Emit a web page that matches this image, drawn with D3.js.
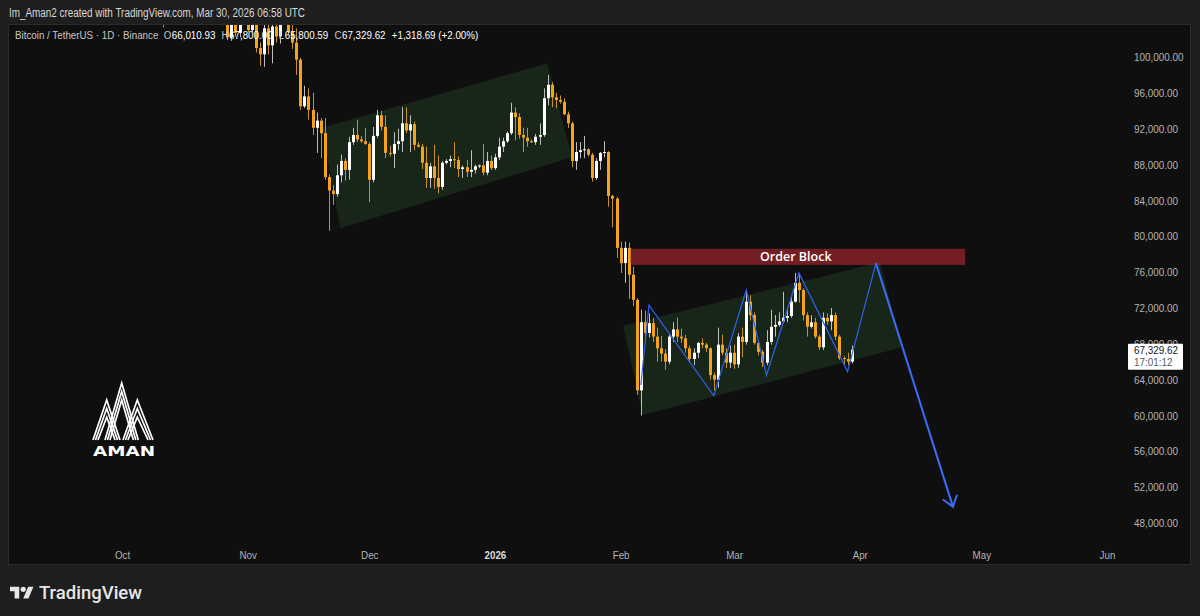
<!DOCTYPE html>
<html><head><meta charset="utf-8">
<script src="https://cdn.jsdelivr.net/npm/d3@7"></script>
<style>
html,body{margin:0;padding:0;background:#1e1e1e;overflow:hidden;}
svg{display:block;}
</style></head><body>
<svg id="c" width="1200" height="616"></svg>
<script>
// ---------- DATA (daily candles, [open, high, low, close]) ----------
const oct2025 = [
[114000,118600,113600,118400],[118400,121000,118200,120600],[120600,123900,119400,122300],[122300,122800,121600,122400],
[122400,125500,122000,123500],[123500,126200,123100,124700],[124700,125100,120600,121400],[121400,124200,121000,123300],
[123300,123700,119700,121700],[121700,122500,104500,113200],[113200,113800,103300,110600],[110600,115800,109800,115200],
[115200,115900,113600,115200],[115200,115500,110000,113000],[113000,113600,110100,110800],[110800,111700,107500,108200],
[108200,109300,104000,106400],[106400,107500,106300,107200],[107200,109500,106100,108700],[108700,111700,107500,110500],
[110500,114000,107400,108400],[108400,109000,106800,107600],[107600,111000,107500,110100],[110100,111800,109700,111000],
[111000,111900,110600,111600],[111600,112500,105200,106000],[106000,106600,101900,102200],[102200,105500,101800,104900],
[104900,105300,102300,102700],[102700,106000,102200,105400],[105400,106600,104700,106100]
];
const nov2025 = [
[106100,106400,102800,103000],[103000,104700,102700,104300],[104300,104900,100500,101000],[101000,101600,99000,100300],
[100300,103800,98900,103200],[103200,104200,100300,101300],[101300,104000,99300,103400],[103400,103800,101600,102300],
[102300,105000,101500,104700],[104700,106600,104200,105900],[105900,106300,102500,102800],[102800,105000,100900,101600],
[101600,103200,98000,99700],[99700,99900,94100,94500],[94500,96800,94300,95600],[95600,96500,93000,94100],
[94100,96000,91300,92100],[92100,93800,89300,92900],[92900,93200,88700,91500],[91500,93200,86300,86600],
[86600,86900,80600,85100],[85100,85700,83500,84700],[84700,88000,84400,86800],[86800,89100,86000,88400],
[88400,88700,86200,87400],[87400,91100,86300,90500],[90500,92100,90200,91300],[91300,93000,90500,90800],
[90800,91200,90400,90600],[90600,92100,90200,90300]
];
const dec2025 = [
[90300,90500,83800,86300],[86300,92200,86000,91200],[91200,94100,91000,93500],[93500,94000,91800,92200],
[92200,93500,88700,89300],[89300,90100,88900,89200],[89200,91600,87600,90300],[90300,92000,89600,90600],
[90600,94400,89400,92600],[92600,94400,91500,91800],[91800,93500,89400,92500],[92500,92800,89600,90200],
[90200,90500,89900,90000],[90000,90300,87500,88200],[88200,90000,85400,86500],[86500,88200,85400,87800],
[87800,90200,85300,86500],[86500,89000,84800,85500],[85500,88400,85200,88200],[88200,88600,88000,88400],
[88400,89000,87700,88600],[88600,90500,87600,88500],[88500,88900,86600,87500],[87500,87900,86500,87700],
[87700,88500,86600,87200],[87200,89600,86600,87400],[87400,88000,87000,87800],[87800,88000,87600,87900],
[87900,90300,86800,87100],[87100,89400,86800,88400],[88400,89000,87400,87600]
];
const jan2026 = [
[87600,89200,87400,88800],[88800,91000,88500,90000],[90000,91000,89400,90600],[90600,91700,90400,91500],
[91500,94900,91300,93800],[93800,94400,90700,93300],[93300,93700,90900,91300],[91300,92100,89400,91000],
[91000,92100,90000,90600],[90600,90800,90400,90500],[90500,91400,90200,91100],[91100,92600,90200,91300],
[91300,96500,91100,95400],[95400,98000,94600,96900],[96900,97200,94400,95500],[95500,96000,94300,95200],
[95200,95700,94800,95000],[95000,95400,93500,93600],[93600,93900,92100,92600],[92600,92800,87700,88400],
[88400,90500,87400,89400],[89400,90500,88700,89600],[89600,91200,88700,89700],[89700,89800,88900,89100],
[89100,89300,86100,86500],[86500,88700,86300,88400],[88400,89400,87400,89300],[89300,90600,88800,89400],
[89400,89500,83300,84500],[84500,84600,81000,84200],[84200,84400,77600,78700]
];
const feb2026 = [
[78700,79400,75900,77000],[77000,79400,74800,78700],[78700,79300,73000,75700],[75700,76600,72200,72900],
[72900,73100,62300,62800],[62800,71800,60000,70400],[70400,71700,68100,69200],[69200,71400,68700,70300],
[70300,70900,68200,68800],[68800,69800,66000,67500],[67500,68900,66000,66900],[66900,67400,65100,66000],
[66000,69000,65700,68800],[68800,70400,68200,69600],[69600,70900,68200,68800],[68800,69700,68100,68600],
[68600,69000,67000,67500],[67500,67800,65900,66300],[66300,67500,65600,67000],[67000,68200,66400,68100],
[68100,68600,67500,67900],[67900,68100,67100,67500],[67500,67600,64000,64500],[64500,64800,62800,64000],
[64000,69800,63100,67900],[67900,69000,66700,67000],[67000,67500,65300,65900],[65900,67800,65300,67000]
];
const mar2026 = [
[67000,67900,65200,65700],[65700,69200,65300,68800],[68800,69800,66500,68200],[68200,73800,67900,72700],
[72700,73400,70600,71200],[71200,71500,67900,68100],[68100,68400,66700,67100],[67100,67300,65400,65900],
[65900,69500,65600,68200],[68200,71800,67900,69900],[69900,71200,68800,70100],[70100,71500,69900,70500],
[70500,73800,70300,70900],[70900,72000,70400,71100],[71100,73200,70900,72700],[72700,75900,72600,74800],
[74800,75900,72600,74000],[74000,74200,70600,71200],[71200,71500,68800,69900],[69900,71200,69700,70400],
[70400,70900,68600,68800],[68800,69000,67300,67600],[67600,71500,67300,70900],[70900,71400,70100,70500],
[70500,72000,69500,71200],[71200,71500,68400,68800],[68800,69000,66200,66400],[66400,66600,65600,66300],
[66300,67000,65600,66010.93],[66010.93,67800,65800.59,67329.62]
];
const monthStarts = ["2025-10-01","2025-11-01","2025-12-01","2026-01-01","2026-02-01","2026-03-01"];

const timeTicks = ["2025-10-01","2025-11-01","2025-12-01","2026-01-01","2026-02-01","2026-03-01","2026-04-01","2026-05-01","2026-06-01"];
const timeTickLabels = ["Oct","Nov","Dec","2026","Feb","Mar","Apr","May","Jun"];
const priceTicks = [48000,52000,56000,60000,64000,68000,72000,76000,80000,84000,88000,92000,96000,100000];

// drawings: [time, price]
const channelTop = [["2025-11-19T08:00",92100],["2026-01-13T22:00",99300],["2026-01-20T00:00",88800],["2025-11-23T20:00",80900]];
const channelBottom = [["2026-02-01T15:00",70000],["2026-04-06T00:00",77100],["2026-04-11T10:00",67600],["2026-02-06T12:00",60050]];
const orderBlock = {from:"2026-02-03T10:00", to:"2026-04-27T00:00", top:78600, bottom:76800, label:"Order Block"};
const zigzag = [["2026-02-06T00:00",63400],["2026-02-08T00:00",72300],["2026-02-24T00:00",62200],["2026-03-04T00:00",74000],
                ["2026-03-09T00:00",64500],["2026-03-17T00:00",75900],["2026-03-29T00:00",64900],["2026-04-05T00:00",77000]];
const projection = [["2026-04-05T00:00",77000],["2026-04-24T00:00",49800]];

const headerText = "Im_Aman2 created with TradingView.com, Mar 30, 2026 06:58 UTC";
const symbolText = "Bitcoin / TetherUS · 1D · Binance";
const countdown = "17:01:12";

// ---------- BUILD ----------
const T = s => new Date(s.length === 10 ? s + "T00:00:00Z" : s + ":00Z");
const blocks = [oct2025, nov2025, dec2025, jan2026, feb2026, mar2026];
const candles = blocks.flatMap((rows, m) => rows.map((r, i) => ({
  date: d3.utcDay.offset(T(monthStarts[m]), i), o: r[0], h: r[1], l: r[2], c: r[3]
})));

const W = 1200, H = 616;
const plot = {left: 8, right: 1120, top: 25, bottom: 541};
const x = d3.scaleUtc().domain([T("2025-10-01"), T("2026-06-01")]).range([122, 1107]);
const y = d3.scaleLinear().domain([48000, 100000]).range([523, 57]);

const svg = d3.select("#c");
const SANS = "'Liberation Sans',Arial,sans-serif";
const squeeze = (sel, k) => sel.each(function () {
  const w = this.getComputedTextLength();
  d3.select(this).attr("textLength", w * k).attr("lengthAdjust", "spacingAndGlyphs");
});

// backgrounds
svg.append("rect").attr("width", W).attr("height", H).attr("fill", "#1e1e1e");
svg.append("rect").attr("x", 8.5).attr("y", 24.5).attr("width", 1182).attr("height", 540)
   .attr("fill", "#0f0f0f").attr("stroke", "#2b2b2b").attr("stroke-width", 1);

svg.append("text").attr("x", 9).attr("y", 17).attr("fill", "#d6d6d6")
   .style("font-family", SANS).style("font-size", "12px")
   .attr("textLength", 296).attr("lengthAdjust", "spacingAndGlyphs").text(headerText);

const defs = svg.append("defs");
defs.append("clipPath").attr("id", "plotclip").append("rect")
   .attr("x", plot.left).attr("y", plot.top).attr("width", plot.right - plot.left).attr("height", plot.bottom - plot.top);

const g = svg.append("g").attr("clip-path", "url(#plotclip)");
const pt = d => [x(T(d[0])), y(d[1])];

// channels (under candles)
[channelTop, channelBottom].forEach(ch => {
  g.append("path").attr("d", d3.line()(ch.map(pt)) + "Z")
   .attr("fill", "rgba(76,175,80,0.15)").attr("stroke", "none");
});

// legend (horizontally condensed group, drawn under the candles like the reference)
const last = candles[candles.length - 1], prev = candles[candles.length - 2];
const chg = last.c - prev.c, pct = chg / prev.c * 100;
const f2 = d3.format(",.2f");
const legItems = [[symbolText, "#c8c8c8", 0], ["O", "#c8c8c8", 6], [f2(last.o), "#ffffff", 0.5], ["H", "#c8c8c8", 7], [f2(last.h), "#ffffff", 0.5],
  ["L", "#c8c8c8", 7], [f2(last.l), "#ffffff", 0.5], ["C", "#c8c8c8", 7], [f2(last.c), "#ffffff", 0.5],
  [(chg >= 0 ? "+" : "") + f2(chg) + " (" + (chg >= 0 ? "+" : "") + pct.toFixed(2) + "%)", "#ffffff", 7]];
const legG = svg.append("g").attr("transform", "translate(15,39) scale(0.89,1)");
let lx = 0;
legItems.forEach(([txt, col, gap]) => {
  lx += gap;
  const t = legG.append("text").attr("x", lx).attr("y", 0).attr("fill", col)
    .style("font-family", SANS).style("font-size", "11px").text(txt);
  lx += t.node().getComputedTextLength();
});

// candles
const bw = 3;
const cg = g.append("g");
candles.forEach(d => {
  const up = d.c >= d.o;
  const cx = Math.round(x(d.date));
  cg.append("line").attr("x1", cx + 0.5).attr("x2", cx + 0.5).attr("y1", y(d.h)).attr("y2", y(d.l))
    .attr("stroke", up ? "#bdbdbd" : "#c98f2a").attr("stroke-width", 1);
  const top = y(Math.max(d.o, d.c)), bot = y(Math.min(d.o, d.c));
  cg.append("rect").attr("x", cx - 1).attr("y", top).attr("width", bw).attr("height", Math.max(1, bot - top))
    .attr("fill", up ? "#ffffff" : "#f7a21b");
});

// order block
const ob = g.append("g");
ob.append("rect").attr("x", x(T(orderBlock.from))).attr("y", y(orderBlock.top))
  .attr("width", x(T(orderBlock.to)) - x(T(orderBlock.from))).attr("height", y(orderBlock.bottom) - y(orderBlock.top))
  .attr("fill", "rgba(178,40,51,0.62)");
ob.append("text").attr("x", (x(T(orderBlock.from)) + x(T(orderBlock.to))) / 2 - 2).attr("y", (y(orderBlock.top) + y(orderBlock.bottom)) / 2 + 4.5)
  .attr("text-anchor", "middle").attr("fill", "#ffffff").style("font-family", "'Open Sans',sans-serif")
  .style("font-weight", "600").style("font-size", "12.5px").text(orderBlock.label);

// zigzag
g.append("path").attr("d", d3.line()(zigzag.map(pt))).attr("fill", "none")
 .attr("stroke", "#2f63f0").attr("stroke-width", 1.2).attr("stroke-linejoin", "miter");
// projection arrow
const p0 = pt(projection[0]), p1 = pt(projection[1]);
g.append("line").attr("x1", p0[0]).attr("y1", p0[1]).attr("x2", p1[0]).attr("y2", p1[1])
 .attr("stroke", "#3a6cf4").attr("stroke-width", 2);
const ang = Math.atan2(p1[1] - p0[1], p1[0] - p0[0]);
const ah = 12, spread = Math.PI / 5;
const a1 = [p1[0] - ah * Math.cos(ang - spread), p1[1] - ah * Math.sin(ang - spread)];
const a2 = [p1[0] - ah * Math.cos(ang + spread), p1[1] - ah * Math.sin(ang + spread)];
g.append("path").attr("d", d3.line()([a1, p1, a2])).attr("fill", "none")
 .attr("stroke", "#3a6cf4").attr("stroke-width", 2).attr("stroke-linecap", "round");

// price axis
const ya = svg.append("g").attr("transform", "translate(1126,0)")
  .call(d3.axisRight(y).tickValues(priceTicks).tickFormat(f2).tickSize(0).tickPadding(8));
ya.select(".domain").remove();
ya.selectAll("text").attr("fill", "#b4b4b4").style("font-family", SANS).style("font-size", "11.5px").call(squeeze, 0.86);

// time axis
const xa = svg.append("g").attr("transform", "translate(0,545)")
  .call(d3.axisBottom(x).tickValues(timeTicks.map(T)).tickFormat((d, i) => timeTickLabels[i]).tickSize(0).tickPadding(6));
xa.select(".domain").remove();
xa.selectAll("text").attr("fill", (d, i) => timeTickLabels[i] === "2026" ? "#dddddd" : "#b4b4b4")
  .style("font-weight", (d, i) => timeTickLabels[i] === "2026" ? "bold" : "normal")
  .style("font-family", SANS).style("font-size", "11.5px").call(squeeze, 0.85);

// last price tag
const ly = y(last.c);
svg.append("rect").attr("x", 1128).attr("y", ly - 6).attr("width", 55).attr("height", 26).attr("fill", "#ffffff").attr("rx", 1);
svg.append("text").attr("x", 1134).attr("y", ly + 4.5).attr("fill", "#131722").style("font-family", SANS)
   .style("font-size", "11.5px").text(f2(last.c)).call(squeeze, 0.86);
svg.append("text").attr("x", 1134).attr("y", ly + 16.5).attr("fill", "#555a66").style("font-family", SANS)
   .style("font-size", "11.5px").text(countdown).call(squeeze, 0.86);

// AMAN logo
const logo = svg.append("g").attr("transform", "translate(93,383)").attr("fill", "none").attr("stroke", "#ffffff").attr("stroke-width", 1.7);
const peaks = [[28.7,0,12,45.3],[13.7,17,0,27],[44.3,17,30,60]]; // apexX, apexY, leftBase, rightBase
peaks.forEach(([ax, ay, lb, rb]) => {
  for (let k = 0; k < 3; k++) {
    const o = k * 4.5;
    logo.append("path").attr("d", d3.line()([[lb + o * 0.55, 57], [ax, ay + o * 1.9], [rb - o * 0.55, 57]]));
  }
});
svg.append("text").attr("x", 124).attr("y", 456).attr("text-anchor", "middle").attr("fill", "#ffffff")
   .style("font-family", "'DejaVu Sans',sans-serif").style("font-weight", "bold").style("font-size", "14px")
   .attr("textLength", 62).attr("lengthAdjust", "spacingAndGlyphs").text("AMAN");

// TradingView footer logo
const tv = svg.append("g").attr("transform", "translate(10,584) scale(0.66)").attr("fill", "#e6e6e6");
tv.append("path").attr("d", "M14 22H7V11H0V4h14v18z");
tv.append("path").attr("d", "M28 22h-8l7.5-18h8L28 22z");
tv.append("circle").attr("cx", 20).attr("cy", 8).attr("r", 4);
svg.append("text").attr("x", 39).attr("y", 599).attr("fill", "#e6e6e6")
   .style("font-family", "Roboto,sans-serif").style("font-weight", "500").style("font-size", "19px")
   .attr("textLength", 103).attr("lengthAdjust", "spacingAndGlyphs").text("TradingView");
</script>
</body></html>
